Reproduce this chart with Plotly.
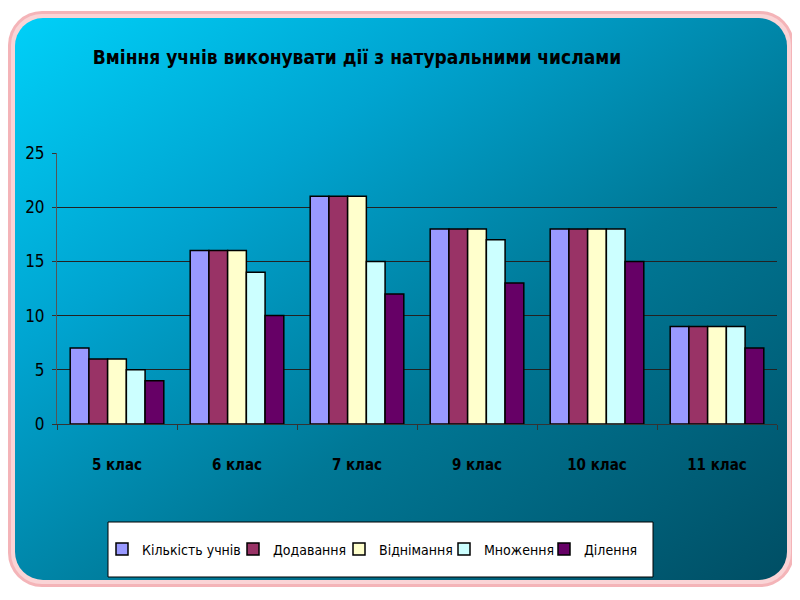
import plotly.graph_objects as go
import base64

categories = ["5 клас", "6 клас", "7 клас", "9 клас", "10 клас", "11 клас"]
series_names = ["Кількість учнів", "Додавання", "Віднімання", "Множення", "Ділення"]
kilkist = [7, 16, 21, 18, 18, 9]
dodavannia = [6, 16, 21, 18, 18, 9]
vidnimannia = [6, 16, 21, 18, 18, 9]
mnozhennia = [5, 14, 15, 17, 18, 9]
dilennia = [4, 10, 12, 13, 15, 7]
colors = ["#9999ff", "#993366", "#ffffcc", "#ccffff", "#660066"]
y_ticks = [0, 5, 10, 15, 20, 25]

values = [kilkist, dodavannia, vidnimannia, mnozhennia, dilennia]

W, H = 792, 592
L, R, T, B = 49, 23, 145, 176
PW, PH = W - L - R, H - T - B

svg = """<svg xmlns='http://www.w3.org/2000/svg' width='792' height='592' viewBox='0 0 792 592'>
<defs>
<linearGradient id='g' x1='0' y1='0' x2='1' y2='1'>
<stop offset='0' stop-color='#00d0f8'/>
<stop offset='0.3' stop-color='#00a4d0'/>
<stop offset='0.6' stop-color='#007896'/>
<stop offset='1' stop-color='#004e64'/>
</linearGradient>
</defs>
<rect x='0' y='0' width='792' height='592' fill='#ffffff'/>
<rect x='0' y='3' width='786' height='576' rx='34' ry='34' fill='#f4b4b8'/>
<rect x='3' y='6' width='780' height='570' rx='31' ry='31' fill='#fad4d6'/>
<rect x='7' y='10' width='772' height='562' rx='28' ry='28' fill='url(#g)'/>
</svg>"""
src = "data:image/svg+xml;base64," + base64.b64encode(svg.encode("utf-8")).decode("ascii")

font_narrow = "DejaVu Sans Condensed, Liberation Sans Narrow, Arial Narrow, Liberation Sans, sans-serif"

# legend symbol start positions (figure px); the legend text follows ~25 px later
symbol_starts = [108, 239, 345, 450, 550]
legend_keys = ["legend", "legend2", "legend3", "legend4", "legend5"]

fig = go.Figure()
for name, vals, col, lk in zip(series_names, values, colors, legend_keys):
    fig.add_trace(go.Bar(
        x=categories, y=vals, name=name, legend=lk,
        marker=dict(color=col, line=dict(color="#000000", width=1.5)),
    ))

# legend box (figure px coords 100..645, 514..569)
lx0, lx1, ly0, ly1 = 100, 645, 514, 569

legend_common = dict(orientation="h", xref="container", yref="container",
                     xanchor="left", yanchor="middle", y=1-(ly0+ly1)/2/H,
                     bgcolor="rgba(0,0,0,0)", borderwidth=0,
                     font=dict(family=font_narrow, size=14, color="#000000"),
                     itemwidth=30)
legends = {}
for lk, ss in zip(legend_keys, symbol_starts):
    legends[lk] = dict(legend_common, x=(ss - 14)/W)

fig.update_layout(
    width=W, height=H,
    barmode="group", bargap=0.22, bargroupgap=0,
    paper_bgcolor="#ffffff", plot_bgcolor="#c0c0c0",
    margin=dict(l=L, r=R, t=T, b=B, pad=0),
    title=dict(text="<b>Вміння учнів виконувати дії з натуральними числами</b>",
               x=349/W, xanchor="center", y=1-49/H, yanchor="middle", xref="container", yref="container",
               font=dict(family="DejaVu Sans Condensed, Liberation Sans, sans-serif", size=19, color="#000000")),
    images=[dict(source=src, xref="paper", yref="paper", x=-L/PW, y=1+T/PH,
                 sizex=W/PW, sizey=H/PH, xanchor="left", yanchor="top",
                 sizing="stretch", layer="below")],
    shapes=[dict(type="rect", xref="paper", yref="paper",
                 x0=(lx0-L)/PW, x1=(lx1-L)/PW, y0=(H-B-ly1)/PH, y1=(H-B-ly0)/PH,
                 fillcolor="#ffffff", line=dict(color="#000000", width=1), layer="below")],
    font=dict(family=font_narrow, color="#000000"),
    showlegend=True,
    **legends,
)
fig.update_xaxes(
    type="category", showgrid=False, showline=True, linecolor="#333333", linewidth=1,
    ticks="outside", tickson="boundaries", ticklen=5, tickcolor="#333333",
    ticklabelstandoff=27,
    tickfont=dict(family="DejaVu Sans Condensed, Liberation Sans, sans-serif", size=15, color="#000000", weight="bold"),
)
fig.update_yaxes(
    range=[0, 25], tickvals=y_ticks, showgrid=True, gridcolor="#222222", gridwidth=1,
    showline=True, linecolor="#555555", linewidth=1, ticks="outside", ticklen=4, tickcolor="#333333",
    ticklabelstandoff=4,
    tickfont=dict(family=font_narrow, size=17, color="#000000"), zeroline=False,
)
fig.write_html("out.html")
